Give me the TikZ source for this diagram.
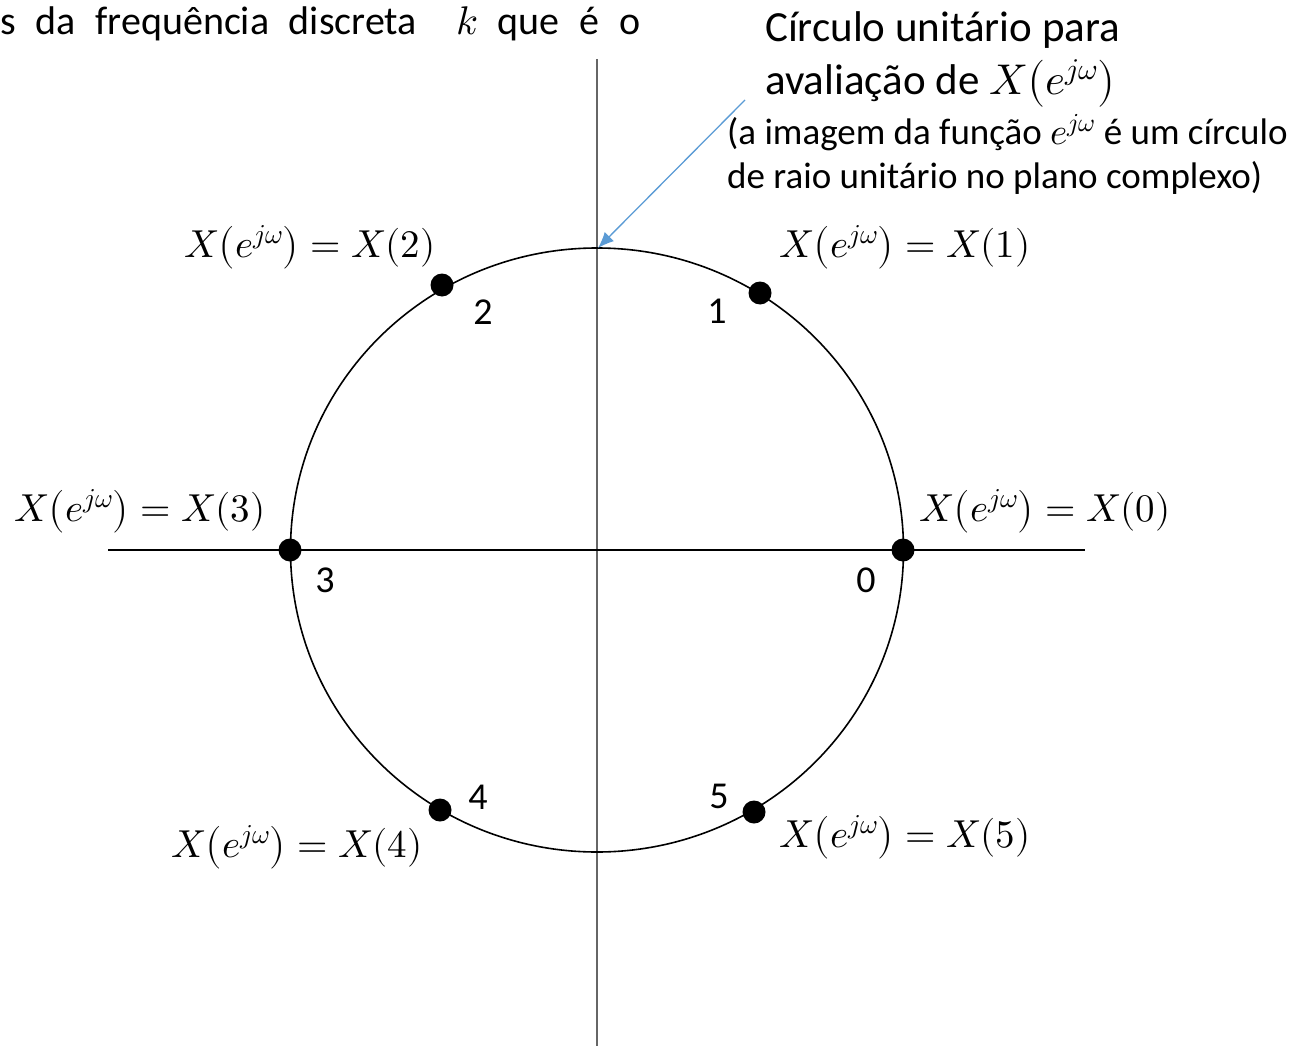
\documentclass[tikz,border=0pt]{standalone}
\usepackage{fontspec}
\usepackage{unicode-math}
\setmainfont{Carlito}
\setmathfont{Latin Modern Math}
\usetikzlibrary{arrows.meta}
\definecolor{arrowblue}{HTML}{5B9BD5}
\tikzset{
  dot/.style={circle,fill=black,inner sep=0pt,minimum size=23pt},
  eqlab/.style={inner sep=0pt,font=\fontsize{39}{46}\selectfont},
  numlab/.style={inner sep=0pt,font=\fontsize{38}{44}\selectfont},
  bigtxt/.style={inner sep=0pt,anchor=base west,font=\fontsize{43}{50}\selectfont},
  smalltxt/.style={inner sep=0pt,anchor=base west,font=\fontsize{37}{44}\selectfont},
}
\newcommand{\Xe}{X\bigl(e^{j\omega}\bigr)}
\begin{document}
\begin{tikzpicture}[x=1pt,y=-1pt]
\useasboundingbox (0,0) rectangle (1309,1046);
% axes
\coordinate (vtop) at (597,59);
\coordinate (vbot) at (597,1046);
\coordinate (hl) at (108,550);
\coordinate (hr) at (1085,550);
\draw[line width=1.4pt,black!60] (vtop) -- (vbot);
\draw[line width=1.6pt] (hl) -- (hr);
% circle
\draw[line width=1.6pt] (597,550) ellipse [x radius=306.5, y radius=302];
% dots
\node[dot] (p0) at (903,550) {};
\node[dot] (p1) at (760,293) {};
\node[dot] (p2) at (442,285) {};
\node[dot] (p3) at (290,550) {};
\node[dot] (p4) at (440,810) {};
\node[dot] (p5) at (754,812) {};
% numbers
\node[numlab] (n0) at (866,580) {0};
\node[numlab] (n1) at (717,311) {1};
\node[numlab] (n2) at (483,312) {2};
\node[numlab] (n3) at (325,580) {3};
\node[numlab] (n4) at (478,797) {4};
\node[numlab] (n5) at (719,796) {5};
% equation labels
\node[eqlab] (e0) at (1045,512) {$\Xe = X(0)$};
\node[eqlab] (e1) at (905,248) {$\Xe = X(1)$};
\node[eqlab] (e2) at (310,248) {$\Xe = X(2)$};
\node[eqlab] (e3) at (140,512) {$\Xe = X(3)$};
\node[eqlab] (e4) at (297,848) {$\Xe = X(4)$};
\node[eqlab] (e5) at (905,838) {$\Xe = X(5)$};
% top-left text (cut off)
\node[inner sep=0pt,anchor=base west,font=\fontsize{40}{48}\selectfont] (tl) at (0,35) {\makebox[640pt][s]{s da frequência discreta \ $k$ que é o}};
% top-right annotation
\node[bigtxt] (t1) at (765,42) {Círculo unitário para};
\node[bigtxt] (t2) at (765,95) {avaliação de $\Xe$};
\node[smalltxt] (t3) at (727,145) {(a imagem da função $e^{j\omega}$ é um círculo};
\node[smalltxt] (t4) at (727,188) {de raio unitário no plano complexo)};
% arrow
\coordinate (atail) at (745,100);
\coordinate (ahead) at (598,248);
\draw[arrowblue,line width=1.3pt,-{Latex[length=16pt,width=13pt]}] (atail) -- (ahead);
\end{tikzpicture}
\end{document}
